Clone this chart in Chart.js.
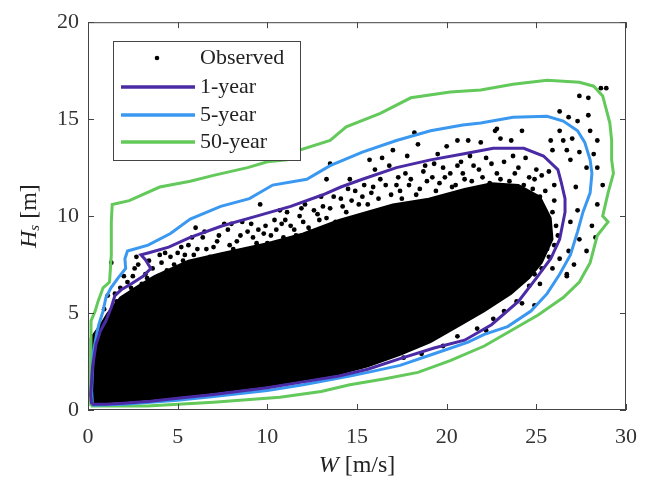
<!DOCTYPE html>
<html>
<head>
<meta charset="utf-8">
<script src="https://cdn.jsdelivr.net/npm/chart.js@4.4.0/dist/chart.umd.min.js"></script>
<style>
  body { margin: 0; background: #fff; }
</style>
</head>
<body>
<canvas id="chart" width="653" height="489"></canvas>
<script>
// axis ticks
const windTicks = [0, 5, 10, 15, 20, 25, 30];
const waveTicks = [0, 5, 10, 15, 20];

// environmental contours [W, Hs]
const oneYear = [[0.2,0.3],[1,0.3],[2,0.35],[3.5,0.45],[5,0.6],[7,0.8],[10,1.15],[12,1.45],[14,1.75],[15.6,2.1],[17.4,2.65],[19.3,3.2],[21,3.6],[22.5,4.4],[24,5.6],[25,6.8],[25.8,7.8],[26.3,8.8],[26.6,10.2],[26.6,10.9],[26.4,11.7],[26.2,12.4],[25.4,13.1],[24.3,13.5],[22.6,13.5],[20.9,13.2],[19.1,12.9],[17.2,12.5],[15.3,11.9],[14.1,11.5],[13.1,11.1],[11.3,10.5],[9.4,10.0],[7.5,9.5],[5.7,8.9],[4.5,8.4],[3.35,8.1],[2.95,8.0],[3.2,7.75],[3.5,7.3],[3.07,6.9],[2.4,6.5],[1.85,6.2],[1.5,5.9],[1.3,5.3],[1.0,4.6],[0.7,4.1],[0.45,3.4],[0.25,2.2],[0.15,0.8],[0.2,0.3]];
const fiveYear = [[0.25,0.25],[2,0.3],[5,0.5],[7,0.7],[10,1.0],[12,1.3],[14.6,1.75],[15.6,1.94],[17.4,2.3],[19.3,2.9],[21.2,3.5],[22.1,3.9],[23.4,4.3],[24.7,5.1],[25.6,6.0],[26.3,7.0],[26.9,8.0],[27.3,9.2],[27.6,10.2],[28.0,11.2],[28.1,12.2],[28.0,12.9],[27.7,13.8],[27.3,14.4],[26.5,14.9],[25.6,15.15],[23.7,15.1],[21.9,14.8],[20.9,14.7],[19.1,14.4],[17.2,13.9],[15.3,13.3],[13.5,12.6],[12.2,11.9],[10.3,11.6],[9.0,10.9],[7.4,10.5],[5.7,9.85],[4.6,9.1],[3.35,8.5],[2.2,8.2],[2.06,7.8],[2.1,7.3],[1.67,6.8],[1.28,6.3],[1.0,5.8],[0.84,5.1],[0.6,4.4],[0.5,4.0],[0.3,3.0],[0.2,1.0],[0.25,0.25]];
const fiftyYear = [[0.15,0.2],[3.3,0.2],[7,0.4],[10.7,0.66],[13,0.95],[14.6,1.3],[16.5,1.6],[18.4,1.94],[20.2,2.55],[22.1,3.3],[23.6,4.1],[25.1,4.9],[26.5,5.8],[27.4,6.6],[28.0,7.6],[28.4,9.0],[29.0,9.7],[28.7,10.0],[29.0,11.2],[29.3,12.2],[29.2,12.9],[29.2,13.9],[29.1,14.8],[28.9,15.5],[28.7,16.2],[28.2,16.7],[27.4,16.9],[25.6,17.0],[23.7,16.8],[21.9,16.5],[20.2,16.4],[18,16.1],[16.3,15.3],[14.4,14.6],[13.5,13.9],[11.8,13.4],[11.1,12.9],[10,12.8],[8.9,12.5],[7,12.1],[5.7,11.8],[4,11.5],[2.3,10.8],[1.35,10.6],[1.3,9.7],[1.3,8.0],[1.2,6.6],[0.84,6.3],[0.56,5.6],[0.4,5.1],[0.17,4.6],[0.15,0.2]];

// outline of the dense cloud of observations
const denseCloud = [[0.15,0.35],[0.15,3.7],[0.7,4.4],[1.1,5.0],[1.8,5.8],[2.8,6.4],[3.7,6.9],[5.6,7.7],[7.5,8.1],[10,8.6],[12,9.1],[14,9.8],[15.5,10.2],[17,10.6],[19,10.9],[21,11.4],[22.5,11.7],[24,11.6],[25.2,11.0],[25.8,9.9],[25.9,8.8],[25.3,7.6],[24.6,6.8],[23.6,6.0],[22.1,5.1],[20.8,4.4],[19.1,3.5],[17.4,2.85],[15.6,2.25],[14,1.85],[12,1.55],[10,1.25],[7,0.9],[5,0.7],[3.5,0.55],[2,0.45],[1,0.4],[0.15,0.35]];

// individual observations outside the dense cloud
const observed = [
  [1.3,7.6],[2.7,7.9],[2.8,7.5],[3.2,7.0],[1.8,6.3],[2.2,6.6],[3.6,7.3],[4.1,7.6],[4.6,7.9],[3.9,6.9],[1.1,5.9],[2.5,6.9],[4.4,7.2],[5.0,8.1],[3.0,6.5],
  [0.9,5.2],[1.5,6.0],[2.0,6.9],[2.4,6.3],[3.4,7.7],[4.0,8.0],[4.8,7.5],[3.3,6.8],[1.6,5.6],[4.3,8.1],[2.6,7.3],
  [6.0,9.4],[5.6,8.5],[6.4,8.9],[7.0,8.4],[7.8,9.3],[8.9,9.2],[9.8,9.1],[8.3,8.7],[9.4,8.6],[6.8,7.9],[7.5,8.0],[8.7,8.1],[5.3,7.7],[6.2,7.6],[9.6,10.6],[7.3,9.0],[8.0,9.6],[9.1,9.6],[5.9,8.0],[10.0,8.6],
  [5.2,8.4],[5.8,8.9],[6.6,8.3],[7.2,8.7],[7.9,8.5],[8.5,9.0],[9.2,8.9],[9.9,9.5],[6.5,9.2],[7.6,9.6],[8.6,9.7],[5.4,8.0],[6.1,8.3],[8.1,8.3],[9.5,9.3],
  [10.5,9.3],[10.7,10.3],[11.3,9.5],[11.8,10.0],[12.8,10.1],[13.3,11.9],[10.9,8.9],[11.6,9.0],[12.3,9.4],[12.9,9.8],[13.5,10.4],[14.1,10.9],[14.6,11.9],[13.8,9.7],[14.4,10.2],[12.1,10.6],[13.0,11.0],[11.0,9.8],[14.9,11.3],[13.5,12.7],
  [10.2,9.0],[10.4,9.8],[11.1,10.2],[11.5,9.3],[12.0,9.7],[12.6,10.3],[13.1,10.5],[13.7,11.0],[14.2,10.5],[14.7,10.8],[12.4,9.2],[13.3,9.9],[10.8,9.6],[11.9,10.4],[14.5,11.4],
  [15.7,12.9],[16.4,13.0],[17.0,13.4],[17.8,13.1],[18.2,14.3],[18.4,13.7],[16.8,12.6],[17.7,12.2],[19.5,13.2],[20.0,13.6],[20.6,13.9],[15.3,11.0],[15.9,11.5],[16.3,11.9],[17.2,11.6],[18.0,11.9],[18.7,12.3],[19.2,12.0],[19.8,12.5],[15.6,10.6],[16.9,11.1],[18.5,11.4],[19.6,11.7],[17.5,10.9],[20.2,12.2],
  [15.1,10.6],[15.8,11.2],[16.2,10.9],[16.6,11.6],[17.4,11.3],[17.9,11.6],[18.3,11.1],[18.9,11.8],[19.4,11.3],[19.9,12.0],[16.0,12.4],[17.3,12.0],[18.8,12.6],[19.3,12.7],[15.4,11.6],
  [21.2,13.9],[21.9,13.8],[22.7,14.4],[23.0,14.0],[23.6,13.9],[24.2,14.4],[22.8,14.5],[20.8,12.8],[21.5,12.6],[22.2,13.0],[23.2,12.8],[24.0,12.5],[24.6,12.0],[21.0,11.9],[22.0,12.0],[23.5,11.8],[24.8,11.4],[25.2,11.0],[22.8,12.2],[20.5,11.6],[24.4,13.0],[25.0,12.4],
  [20.3,11.5],[20.9,12.2],[21.4,11.8],[21.8,12.4],[22.4,11.7],[23.0,11.9],[23.8,12.2],[24.3,11.6],[24.9,11.9],[25.5,11.3],[21.3,13.1],[22.5,12.7],[23.7,13.1],[25.3,12.1],[20.6,12.6],
  [25.9,10.2],[26.1,9.5],[26.0,8.5],[25.7,7.9],[25.3,10.0],[25.6,8.3],
  [28.6,16.6],[28.9,16.6],[27.4,16.2],[27.9,16.1],[26.3,15.4],[26.8,15.1],[27.3,14.9],[27.9,15.2],[26.3,14.4],[28.0,14.4],[25.8,13.9],[26.5,13.9],[27.0,14.0],[28.4,13.9],[25.9,13.4],[26.7,13.4],[27.4,13.3],[26.9,12.9],[28.2,13.2],[27.8,12.5],[28.4,12.5],[27.2,11.5],[28.7,11.6],[28.4,10.6],[27.3,10.3],[26.9,9.7],[28.1,9.5],[28.3,8.9],[27.4,8.8],[26.8,8.2],[27.8,8.2],[26.3,7.8],[27.1,7.5],[26.7,7.0],[26.0,10.8],[26.2,9.0],[25.9,7.3],[26.0,11.6],[25.7,12.3],
  [26.7,6.9],[24.9,5.4],[24.2,5.5],[25.2,6.5],[22.2,4.1],[17.6,2.7],
  [24.6,6.4],[23.9,5.6],[23.2,5.1],[22.6,4.7],[21.7,4.2],[20.6,3.8],[19.8,3.3],[18.6,2.9],[24.9,7.0],[25.3,7.3]
];

const PURPLE = '#4a2aa5';
const BLUE = '#3a98f0';
const GREEN = '#63c95a';
const SERIF = '"Liberation Serif", "DejaVu Serif", serif';

function toXY(pairs) {
    return pairs.map(p => ({ x: p[0], y: p[1] }));
}

function contour(label, pairs, color) {
    return {
        label: label,
        data: toXY(pairs),
        showLine: true,
        borderColor: color,
        borderWidth: 3,
        pointRadius: 0,
        tension: 0,
        fill: false,
        order: 0
    };
}

// box, inward ticks, axis titles and legend, MATLAB style
const decorations = {
    id: 'decorations',
    afterDatasetsDraw(chart) {
        const ctx = chart.ctx;
        const a = chart.chartArea;
        const xs = chart.scales.x;
        const ys = chart.scales.y;
        ctx.save();
        ctx.strokeStyle = '#444';
        ctx.lineWidth = 1;
        ctx.strokeRect(a.left + 0.5, a.top + 0.5, a.right - a.left - 1, a.bottom - a.top - 1);
        ctx.beginPath();
        windTicks.forEach(v => {
            const px = Math.round(xs.getPixelForValue(v)) + 0.5;
            ctx.moveTo(px, a.bottom); ctx.lineTo(px, a.bottom - 6);
            ctx.moveTo(px, a.top); ctx.lineTo(px, a.top + 6);
        });
        waveTicks.forEach(v => {
            const py = Math.round(ys.getPixelForValue(v)) + 0.5;
            ctx.moveTo(a.left, py); ctx.lineTo(a.left + 6, py);
            ctx.moveTo(a.right, py); ctx.lineTo(a.right - 6, py);
        });
        ctx.stroke();
        ctx.restore();
    },
    afterDraw(chart) {
        const ctx = chart.ctx;
        const a = chart.chartArea;
        ctx.save();
        ctx.fillStyle = '#222';
        ctx.textBaseline = 'middle';

        // x title: W [m/s]
        ctx.font = 'italic 24px ' + SERIF;
        const wW = ctx.measureText('W').width;
        ctx.font = '24px ' + SERIF;
        const restW = ctx.measureText(' [m/s]').width;
        let tx = (a.left + a.right) / 2 - (wW + restW) / 2;
        ctx.font = 'italic 24px ' + SERIF;
        ctx.fillText('W', tx, 466);
        ctx.font = '24px ' + SERIF;
        ctx.fillText(' [m/s]', tx + wW, 466);

        // y title: Hs [m]
        ctx.translate(30, (a.top + a.bottom) / 2);
        ctx.rotate(-Math.PI / 2);
        ctx.font = 'italic 24px ' + SERIF;
        const hW = ctx.measureText('H').width;
        ctx.font = 'italic 15px ' + SERIF;
        const sW = ctx.measureText('s').width;
        ctx.font = '24px ' + SERIF;
        const mW = ctx.measureText(' [m]').width;
        let ty = -(hW + sW + mW) / 2;
        ctx.font = 'italic 24px ' + SERIF;
        ctx.fillText('H', ty, 0);
        ctx.font = 'italic 15px ' + SERIF;
        ctx.fillText('s', ty + hW, 5);
        ctx.font = '24px ' + SERIF;
        ctx.fillText(' [m]', ty + hW + sW, 0);
        ctx.restore();

        // legend
        ctx.save();
        ctx.fillStyle = '#fff';
        ctx.fillRect(113, 41, 187, 119);
        ctx.strokeStyle = '#444';
        ctx.lineWidth = 1;
        ctx.strokeRect(113.5, 41.5, 187, 119);
        const entries = [
            { text: 'Observed', y: 58, color: null },
            { text: '1-year', y: 87, color: PURPLE },
            { text: '5-year', y: 115, color: BLUE },
            { text: '50-year', y: 142, color: GREEN }
        ];
        entries.forEach(e => {
            if (e.color) {
                ctx.strokeStyle = e.color;
                ctx.lineWidth = 3.5;
                ctx.beginPath();
                ctx.moveTo(121, e.y);
                ctx.lineTo(195, e.y);
                ctx.stroke();
            } else {
                ctx.fillStyle = '#000';
                ctx.beginPath();
                ctx.arc(157, e.y, 2.3, 0, Math.PI * 2);
                ctx.fill();
            }
            ctx.fillStyle = '#222';
            ctx.font = '22px ' + SERIF;
            ctx.textBaseline = 'middle';
            ctx.fillText(e.text, 200, e.y);
        });
        ctx.restore();
    }
};

const ctx = document.getElementById('chart').getContext('2d');
new Chart(ctx, {
    type: 'scatter',
    data: {
        datasets: [
            contour('1-year', oneYear, PURPLE),
            contour('5-year', fiveYear, BLUE),
            contour('50-year', fiftyYear, GREEN),
            {
                label: 'Observed',
                data: toXY(observed),
                pointRadius: 2.4,
                pointBackgroundColor: '#000',
                pointBorderWidth: 0,
                order: 1
            },
            {
                label: 'Observed (dense)',
                data: toXY(denseCloud),
                showLine: true,
                borderColor: '#000',
                borderWidth: 2,
                backgroundColor: '#000',
                fill: 'shape',
                pointRadius: 0,
                tension: 0,
                order: 2
            }
        ]
    },
    options: {
        responsive: false,
        animation: false,
        devicePixelRatio: 1,
        layout: { padding: { top: 18, right: 27, left: 0, bottom: 0 } },
        plugins: {
            legend: { display: false },
            tooltip: { enabled: false }
        },
        scales: {
            x: {
                type: 'linear',
                min: 0,
                max: 30,
                afterBuildTicks: s => { s.ticks = windTicks.map(v => ({ value: v })); },
                afterFit: s => { s.height = 79; },
                ticks: { font: { family: SERIF, size: 22 }, color: '#333', padding: 14, maxRotation: 0 },
                grid: { display: false, drawTicks: false },
                border: { display: false }
            },
            y: {
                type: 'linear',
                min: 0,
                max: 20,
                afterBuildTicks: s => { s.ticks = waveTicks.map(v => ({ value: v })); },
                afterFit: s => { s.width = 88; },
                ticks: { font: { family: SERIF, size: 22 }, color: '#333', padding: 9 },
                grid: { display: false, drawTicks: false },
                border: { display: false }
            }
        }
    },
    plugins: [decorations]
});
</script>
</body>
</html>
